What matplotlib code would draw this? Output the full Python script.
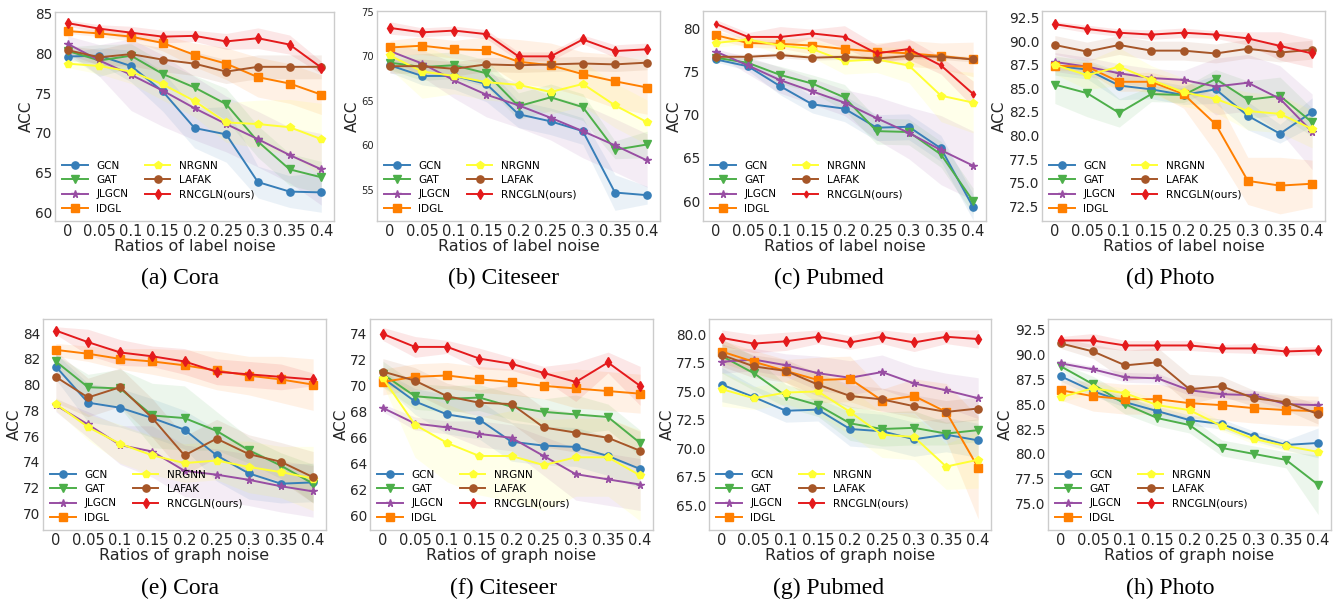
import matplotlib
matplotlib.use("Agg")
import matplotlib.pyplot as plt
import numpy as np

ratios = [0, 0.05, 0.1, 0.15, 0.2, 0.25, 0.3, 0.35, 0.4]
ratio_labels = ['0', '0.05', '0.1', '0.15', '0.2', '0.25', '0.3', '0.35', '0.4']
methods = ['GCN', 'GAT', 'JLGCN', 'IDGL', 'NRGNN', 'LAFAK', 'RNCGLN(ours)']
colors = ['#377eb8', '#4daf4a', '#984ea3', '#ff7f00', '#ffff33', '#a65628', '#e41a1c']
markers = ['o', 'v', '*', 's', 'p', 'o', 'd']

# ---- label noise ----
cora_label_acc = [
    [79.6, 79.7, 78.4, 75.2, 70.6, 69.8, 63.8, 62.6, 62.5],
    [80.3, 79.1, 79.7, 77.4, 75.7, 73.6, 68.9, 65.4, 64.4],
    [81.2, 79.1, 77.3, 75.3, 73.1, 71.1, 69.2, 67.2, 65.4],
    [82.8, 82.5, 82.1, 81.3, 79.8, 78.7, 77.0, 76.2, 74.8],
    [78.7, 78.4, 77.7, 76.1, 74.0, 71.3, 71.1, 70.7, 69.2],
    [80.4, 79.5, 79.9, 79.2, 78.7, 77.7, 78.3, 78.3, 78.3],
    [83.8, 83.1, 82.6, 82.1, 82.2, 81.5, 81.9, 81.1, 78.2],
]
cora_label_std = [
    [0.5, 1.0, 2.0, 2.5, 2.5, 3.5, 2.0, 2.0, 2.5],
    [0.5, 2.0, 1.5, 1.5, 1.5, 2.0, 2.0, 2.0, 2.0],
    [1.0, 2.0, 4.5, 4.5, 4.0, 3.5, 3.5, 3.5, 4.5],
    [0.3, 0.4, 0.6, 1.0, 1.5, 2.0, 2.5, 2.5, 2.5],
    [0.5, 1.0, 1.5, 2.0, 2.0, 2.5, 3.0, 3.5, 4.5],
    [0.5, 1.0, 1.5, 1.5, 1.5, 1.5, 1.5, 1.5, 1.5],
    [0.4, 0.5, 0.8, 0.8, 0.7, 1.0, 1.3, 1.2, 0.8],
]
citeseer_label_acc = [
    [69.0, 67.8, 67.8, 66.9, 63.5, 62.7, 61.6, 54.7, 54.4],
    [69.3, 68.8, 69.0, 68.1, 64.4, 65.4, 64.3, 59.5, 60.1],
    [70.6, 69.2, 67.3, 65.7, 64.5, 63.1, 61.6, 60.0, 58.3],
    [71.0, 71.2, 70.8, 70.7, 69.4, 69.0, 68.0, 67.2, 66.5],
    [70.1, 68.3, 67.8, 67.1, 66.8, 66.0, 66.9, 64.5, 62.6],
    [68.9, 68.9, 68.6, 69.1, 69.0, 69.1, 69.2, 69.1, 69.3],
    [73.2, 72.7, 72.9, 72.5, 70.0, 70.0, 71.9, 70.6, 70.8],
]
citeseer_label_std = [
    [0.8, 1.0, 1.5, 2.0, 1.5, 1.5, 1.5, 2.0, 1.0],
    [0.8, 1.5, 1.5, 1.5, 1.5, 1.5, 1.5, 1.0, 1.5],
    [0.8, 1.5, 2.0, 2.5, 2.5, 2.5, 3.0, 3.0, 3.0],
    [0.8, 1.0, 1.0, 1.5, 2.5, 2.5, 2.5, 3.0, 3.0],
    [1.5, 3.0, 2.0, 2.0, 2.0, 2.5, 2.5, 2.5, 2.5],
    [0.8, 0.8, 0.8, 0.8, 0.8, 0.8, 0.8, 0.8, 0.8],
    [0.7, 0.5, 0.5, 0.5, 0.5, 0.5, 0.5, 0.7, 0.7],
]
pubmed_label_acc = [
    [76.4, 75.6, 73.3, 71.2, 70.7, 68.5, 68.6, 66.1, 59.3],
    [76.6, 76.0, 74.6, 73.6, 72.0, 68.1, 68.0, 65.4, 60.0],
    [77.3, 75.7, 74.0, 72.7, 71.4, 69.6, 67.9, 65.9, 64.1],
    [79.2, 78.3, 78.2, 78.0, 77.6, 77.3, 77.1, 76.8, 76.4],
    [78.3, 78.7, 78.0, 77.6, 76.2, 76.4, 75.7, 72.2, 71.4],
    [76.7, 76.7, 76.9, 76.6, 76.7, 76.5, 76.8, 76.7, 76.4],
    [80.5, 79.0, 79.0, 79.4, 79.0, 77.1, 77.6, 75.7, 72.4],
]
pubmed_label_std = [
    [0.3, 0.5, 1.0, 1.0, 1.5, 1.5, 1.5, 1.5, 1.5],
    [0.3, 0.5, 1.0, 1.0, 1.5, 1.5, 1.5, 1.5, 1.5],
    [0.3, 1.0, 1.5, 1.5, 1.5, 2.5, 3.0, 4.0, 4.0],
    [0.5, 0.5, 0.5, 1.0, 1.0, 1.0, 1.5, 1.5, 2.0],
    [0.5, 0.5, 1.0, 1.0, 1.5, 1.5, 2.0, 3.0, 3.5],
    [0.3, 0.3, 0.3, 0.3, 0.3, 0.3, 0.3, 0.3, 0.3],
    [0.5, 0.5, 1.2, 0.5, 1.3, 1.0, 1.2, 1.0, 1.5],
]
photo_label_acc = [
    [87.4, 87.0, 85.3, 84.9, 84.3, 84.9, 82.1, 80.2, 82.5],
    [85.4, 84.5, 82.4, 84.4, 84.3, 86.0, 83.8, 84.2, 81.4],
    [87.8, 87.3, 86.6, 86.1, 85.9, 85.2, 85.6, 83.9, 80.4],
    [87.4, 87.3, 85.7, 85.7, 84.4, 81.2, 75.2, 74.7, 74.9],
    [87.5, 86.4, 87.3, 85.9, 84.6, 83.9, 82.6, 82.3, 80.7],
    [89.6, 88.9, 89.6, 89.0, 89.0, 88.7, 89.2, 88.8, 89.1],
    [91.8, 91.3, 90.9, 90.7, 90.9, 90.7, 90.3, 89.5, 88.7],
]
photo_label_std = [
    [1.0, 1.0, 1.5, 1.0, 1.0, 1.5, 1.5, 1.0, 1.5],
    [2.0, 2.5, 1.5, 0.8, 0.8, 1.0, 2.0, 2.0, 1.5],
    [1.0, 1.0, 1.0, 1.0, 1.0, 3.0, 3.0, 3.5, 4.0],
    [0.5, 0.5, 1.0, 1.0, 1.5, 3.0, 2.5, 3.0, 2.5],
    [1.0, 1.5, 2.0, 1.5, 1.5, 1.5, 2.0, 2.0, 2.0],
    [1.0, 1.0, 1.0, 1.0, 1.0, 1.0, 1.0, 1.0, 1.0],
    [0.3, 0.4, 0.4, 0.5, 0.5, 0.4, 0.7, 1.5, 1.5],
]

# ---- graph noise ----
cora_graph_acc = [
    [81.4, 78.6, 78.2, 77.4, 76.5, 74.5, 73.1, 72.3, 72.4],
    [81.8, 79.8, 79.7, 77.6, 77.4, 76.4, 74.9, 73.7, 72.3],
    [78.4, 76.9, 75.3, 74.8, 73.3, 73.0, 72.6, 72.1, 71.7],
    [82.7, 82.4, 82.0, 81.8, 81.5, 81.1, 80.7, 80.4, 80.0],
    [78.5, 76.7, 75.4, 74.5, 73.9, 74.1, 73.6, 73.2, 72.7],
    [80.6, 79.0, 79.8, 77.4, 74.5, 75.8, 74.6, 74.0, 72.8],
    [84.2, 83.3, 82.5, 82.2, 81.8, 81.0, 80.8, 80.6, 80.4],
]
cora_graph_std = [
    [1.0, 1.5, 1.5, 1.5, 1.5, 2.0, 2.0, 1.5, 1.5],
    [0.5, 1.0, 1.5, 2.5, 2.5, 1.5, 1.0, 1.0, 1.5],
    [0.5, 1.0, 1.5, 2.0, 2.0, 2.0, 2.0, 2.0, 2.0],
    [0.5, 0.6, 0.8, 1.0, 1.2, 1.5, 1.5, 1.8, 2.0],
    [0.5, 1.0, 1.5, 1.5, 1.5, 1.5, 2.0, 2.0, 2.5],
    [2.0, 1.5, 1.5, 1.5, 1.5, 1.5, 1.5, 1.5, 2.0],
    [0.3, 1.0, 1.0, 0.8, 1.0, 1.0, 1.0, 1.0, 0.5],
]
citeseer_graph_acc = [
    [70.6, 68.8, 67.8, 67.4, 65.7, 65.4, 65.3, 64.6, 63.6],
    [70.9, 69.2, 69.0, 69.1, 68.4, 68.0, 67.8, 67.6, 65.6],
    [68.3, 67.1, 66.8, 66.3, 66.0, 64.6, 63.2, 62.8, 62.4],
    [70.3, 70.7, 70.8, 70.5, 70.3, 70.0, 69.8, 69.6, 69.4],
    [70.6, 67.0, 65.6, 64.6, 64.6, 63.9, 64.5, 64.5, 63.1],
    [71.1, 70.4, 69.2, 68.7, 68.6, 66.8, 66.4, 66.0, 65.0],
    [74.0, 73.0, 73.0, 72.1, 71.7, 71.0, 70.3, 71.8, 70.0],
]
citeseer_graph_std = [
    [0.5, 1.0, 1.5, 1.5, 1.5, 1.5, 1.5, 1.5, 1.5],
    [1.0, 1.0, 1.0, 1.0, 1.0, 1.0, 1.5, 1.0, 1.0],
    [0.3, 0.5, 0.5, 1.0, 1.0, 1.5, 2.0, 2.0, 2.0],
    [1.0, 1.0, 1.0, 1.0, 1.0, 1.0, 1.5, 1.5, 1.5],
    [0.5, 2.5, 3.0, 3.0, 3.5, 3.5, 3.0, 3.0, 3.5],
    [1.0, 1.0, 1.0, 1.0, 1.5, 1.5, 1.5, 1.5, 1.5],
    [0.5, 0.8, 0.5, 0.8, 0.5, 0.5, 1.5, 0.8, 1.5],
]
pubmed_graph_acc = [
    [75.6, 74.5, 73.3, 73.4, 71.7, 71.5, 70.8, 71.2, 70.7],
    [78.1, 76.6, 74.6, 73.8, 72.2, 71.7, 71.8, 71.3, 71.6],
    [77.6, 77.8, 77.3, 76.6, 76.2, 76.7, 75.7, 75.1, 74.4],
    [78.5, 77.6, 76.8, 76.0, 76.1, 74.2, 74.6, 73.2, 68.3],
    [75.2, 74.4, 74.9, 75.0, 73.2, 71.2, 71.0, 68.4, 69.0],
    [78.2, 77.2, 76.8, 75.6, 74.6, 74.3, 73.7, 73.2, 73.5],
    [79.7, 79.2, 79.4, 79.8, 79.3, 79.8, 79.3, 79.8, 79.6],
]
pubmed_graph_std = [
    [1.5, 1.0, 1.0, 1.0, 1.5, 1.5, 1.5, 1.5, 1.5],
    [1.5, 1.5, 1.0, 1.0, 1.5, 1.5, 1.5, 1.0, 1.0],
    [1.0, 1.0, 1.0, 1.5, 1.5, 1.5, 1.5, 1.5, 1.8],
    [1.0, 1.0, 1.0, 2.0, 2.0, 1.0, 1.5, 2.5, 4.5],
    [1.5, 1.0, 1.0, 2.0, 2.0, 2.0, 2.0, 2.0, 2.5],
    [1.0, 1.0, 1.0, 1.0, 1.0, 1.0, 1.0, 1.0, 1.0],
    [0.7, 0.8, 0.8, 0.6, 0.6, 0.6, 0.8, 0.6, 0.8],
]
photo_graph_acc = [
    [87.8, 86.3, 85.2, 84.3, 83.4, 83.0, 81.8, 80.9, 81.1],
    [88.8, 87.0, 85.0, 83.6, 82.9, 80.6, 80.0, 79.4, 76.9],
    [89.1, 88.5, 87.7, 87.6, 86.4, 86.0, 85.9, 85.0, 84.9],
    [86.4, 85.8, 85.5, 85.5, 85.1, 84.9, 84.6, 84.4, 84.3],
    [85.7, 86.6, 86.1, 84.9, 84.4, 82.8, 81.5, 80.8, 80.2],
    [91.1, 90.3, 88.9, 89.2, 86.5, 86.8, 85.6, 85.2, 84.0],
    [91.4, 91.4, 90.9, 90.9, 90.9, 90.6, 90.6, 90.3, 90.4],
]
photo_graph_std = [
    [0.5, 0.5, 0.5, 0.5, 0.5, 0.5, 0.5, 0.5, 1.5],
    [0.3, 0.8, 1.0, 0.8, 0.8, 0.8, 0.8, 0.8, 3.0],
    [0.3, 0.3, 0.5, 0.5, 0.5, 0.5, 0.5, 0.5, 0.5],
    [1.0, 1.5, 1.5, 1.5, 1.5, 1.5, 1.5, 1.5, 1.5],
    [0.5, 0.5, 0.5, 0.5, 0.5, 0.5, 0.5, 0.5, 0.5],
    [0.5, 0.7, 1.5, 1.5, 1.5, 1.0, 0.8, 0.8, 1.0],
    [0.4, 0.7, 0.5, 0.5, 0.5, 0.4, 0.5, 0.4, 0.4],
]

captions = ['(a) Cora', '(b) Citeseer', '(c) Pubmed', '(d) Photo',
            '(e) Cora', '(f) Citeseer', '(g) Pubmed', '(h) Photo']

W, H = 1342, 602
fig = plt.figure(figsize=(W / 100, H / 100), dpi=100)

# (acc, std, xlabel, ylim, yticks, decimals, ytick fontsize, axes px box l,r,t,b, caption center x)
panels = [
    (cora_label_acc, cora_label_std, 'Ratios of label noise', (58.9, 85.2), np.arange(60, 86, 5), 0, 9.8, (55, 334, 12, 221), 180),
    (citeseer_label_acc, citeseer_label_std, 'Ratios of label noise', (51.5, 75.1), np.arange(55, 76, 5), 0, 7.2, (377, 660, 11, 221), 503),
    (pubmed_label_acc, pubmed_label_std, 'Ratios of label noise', (57.7, 82.0), np.arange(60, 81, 5), 0, 9.8, (703, 986, 11, 221), 829),
    (photo_label_acc, photo_label_std, 'Ratios of label noise', (70.95, 93.2), np.arange(72.5, 93, 2.5), 1, 9.8, (1042, 1325, 11, 221), 1170),
    (cora_graph_acc, cora_graph_std, 'Ratios of graph noise', (68.7, 85.1), np.arange(70, 85, 2), 0, 9.8, (43, 326, 319, 530), 180),
    (citeseer_graph_acc, citeseer_graph_std, 'Ratios of graph noise', (58.9, 75.15), np.arange(60, 75, 2), 0, 9.8, (370, 653, 319, 530), 503),
    (pubmed_graph_acc, pubmed_graph_std, 'Ratios of graph noise', (62.83, 81.36), np.arange(65, 81, 2.5), 1, 9.8, (709, 991, 319, 530), 829),
    (photo_graph_acc, photo_graph_std, 'Ratios of graph noise', (72.35, 93.56), np.arange(75, 93, 2.5), 1, 9.8, (1048, 1331, 319, 530), 1170),
]

x = np.array(ratios)
for idx, (acc, std, xlabel, ylim, yticks, dec, yfs, box, capx) in enumerate(panels):
    l, r, t, b = box
    ax = fig.add_axes([l / W, 1 - b / H, (r - l) / W, (b - t) / H])
    for i, m in enumerate(methods):
        mu = np.array(acc[i])
        sd = np.array(std[i])
        ms = 5.2
        if markers[i] == '*':
            ms = 5.6
        if markers[i] == 'd':
            ms = 3.5 if idx == 2 else 5.5
        if markers[i] == 'p':
            ms = 5.8
        ax.fill_between(x, mu - sd, mu + sd, color=colors[i], alpha=0.1, lw=0)
        ax.plot(x, mu, color=colors[i], marker=markers[i], ms=ms, lw=1.4, label=m)
    ax.set_xlim(-0.02, 0.42)
    ax.set_ylim(*ylim)
    ax.set_xticks(ratios)
    ax.set_xticklabels(ratio_labels)
    ax.set_yticks(yticks)
    ax.set_yticklabels([f'{v:.{dec}f}' for v in yticks])
    ax.tick_params(axis='x', labelsize=10.5, length=0, pad=2, colors='#262626')
    ax.tick_params(axis='y', labelsize=yfs, length=0, pad=2, colors='#262626')
    for s in ax.spines.values():
        s.set_color('#cccccc')
        s.set_linewidth(1.0)
    ax.set_xlabel(xlabel, fontsize=11.5, labelpad=0, color='#262626')
    ax.set_ylabel('ACC', fontsize=11, labelpad=1, color='#262626')
    ax.legend(loc='lower left', ncol=2, frameon=False, fontsize=7.6,
              handlelength=2.4, columnspacing=1.6, labelspacing=0.4,
              borderaxespad=0.3)
    capy = 1 - (278 if idx < 4 else 588) / H
    fig.text(capx / W, capy, captions[idx], ha='center', va='center',
             fontsize=17, family='Liberation Serif')

fig.savefig('out.png', dpi=100)
